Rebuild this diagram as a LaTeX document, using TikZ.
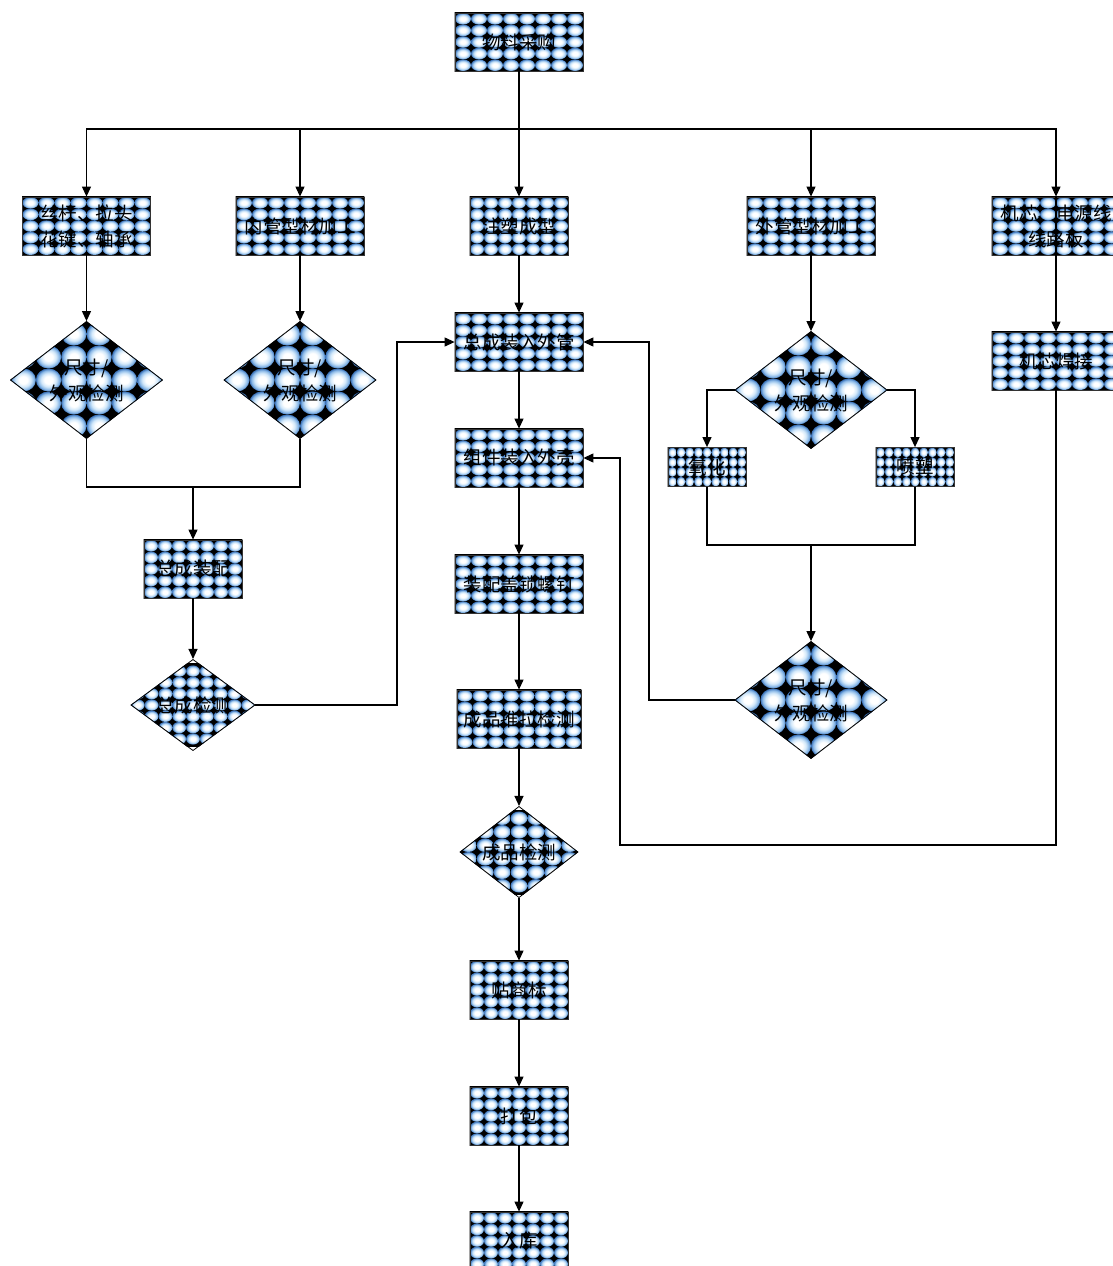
\documentclass[tikz,border=0pt]{standalone}
\usepackage{fontspec}
\setmainfont{Noto Sans CJK SC}
\usetikzlibrary{shapes.geometric,arrows.meta}
\definecolor{lb}{RGB}{210,232,250}
\definecolor{mb}{RGB}{135,182,230}
\definecolor{db}{RGB}{60,115,185}
\pgfdeclareradialshading{sph}{\pgfpoint{0bp}{0bp}}{color(0bp)=(white); color(8bp)=(white); color(15bp)=(lb); color(21bp)=(mb); color(25bp)=(db); color(50bp)=(db)}
\pgfdeclarelayer{bg}
\pgfsetlayers{bg,main}
% pattern grid: #1 cell width, #2 cell height, #3 columns, #4 rows
\newcommand\patgrid[4]{%
  \fill[black] (-#1*#3/2-2,-#2*#4/2-2) rectangle (#1*#3/2+2,#2*#4/2+2);
  \foreach \i in {1,...,#3}{\foreach \j in {1,...,#4}{
    \shade[shading=sph] ({(\i-0.5-#3/2)*#1},{(\j-0.5-#4/2)*#2}) ellipse [x radius=#1*0.5pt, y radius=#2*0.5pt];}}}
\newcommand\patbox[5]{%
  \begin{pgfonlayer}{bg}\begin{scope}
  \clip (#1.south west) rectangle (#1.north east);
  \begin{scope}[shift={(#1.center)}]\patgrid{#2}{#3}{#4}{#5}\end{scope}
  \end{scope}\end{pgfonlayer}}
\newcommand\patdia[5]{%
  \begin{pgfonlayer}{bg}\begin{scope}
  \clip (#1.north) -- (#1.east) -- (#1.south) -- (#1.west) -- cycle;
  \begin{scope}[shift={(#1.center)}]\patgrid{#2}{#3}{#4}{#5}\end{scope}
  \end{scope}\end{pgfonlayer}}
\tikzset{
 txt/.style={inner sep=0pt, align=center, font=\fontsize{18.5}{26}\selectfont},
 box/.style={txt, draw=black!80, line width=0.8pt, minimum width=128pt, minimum height=58pt},
 sbox/.style={box, minimum width=98pt},
 tbox/.style={box, minimum width=78pt, minimum height=39pt},
 dia/.style={txt, diamond, draw=black, line width=0.8pt, minimum width=152pt, minimum height=115pt},
 conn/.style={draw=black, line width=1.1pt},
 arr/.style={conn, -{Triangle[length=10pt,width=9pt]}}
}
\begin{document}
\begin{tikzpicture}[x=1pt,y=-1pt]
\useasboundingbox (0,0) rectangle (1113,1266);
\clip (0,0) rectangle (1113,1266);
% nodes
\node[box] (wl) at (519,42) {物料采购};
\node[box] (sg) at (86.5,226) {丝杆、拉头\\花键、轴承};
\node[box] (ng) at (300,226) {内管型材加工};
\node[sbox] (zs) at (519,226) {注塑成型};
\node[box] (wg) at (811,226) {外管型材加工};
\node[box] (jx) at (1056,226) {机芯、电源线\\线路板};
\node[dia] (d1) at (86.5,380) {尺寸/\\外观检测};
\node[dia] (d2) at (300,380) {尺寸/\\外观检测};
\node[dia] (d3) at (811,390) {尺寸/\\外观检测};
\node[box] (zr) at (519,342) {总成装入外管};
\node[box] (zk) at (519,458) {组件装入外壳};
\node[tbox] (yh) at (707,467) {氧化};
\node[tbox] (ps) at (915,467) {喷塑};
\node[box] (hj) at (1056,361) {机芯焊接};
\node[sbox] (zp) at (193,569) {总成装配};
\node[dia, minimum width=124pt, minimum height=79pt] (zj) at (193,705) {总成检测};
\node[box] (lg) at (519,584) {装配盖锁螺钉};
\node[dia] (d4) at (811,700) {尺寸/\\外观检测};
\node[box, minimum width=124pt] (tl) at (519,719) {成品推拉检测};
\node[dia, minimum width=118pt, minimum height=81pt] (cj) at (519,852) {成品检测};
\node[sbox] (tb) at (519,990) {贴商标};
\node[sbox] (db) at (519,1116) {打包};
\node[sbox] (rk) at (519,1241) {入库};
% fills
\foreach \n in {wl,sg,ng,wg,jx,zr,zk,hj,lg}{\patbox{\n}{16}{11.6}{8}{5}}
\foreach \n in {zs,zp,tb,db,rk}{\patbox{\n}{14}{11.6}{7}{5}}
\patbox{tl}{15.5}{11.6}{8}{5}
\foreach \n in {yh,ps}{\patbox{\n}{8.67}{9.75}{9}{4}}
\foreach \n in {d1,d2,d3,d4}{\patdia{\n}{25.3}{23}{6}{5}}
\patdia{zj}{13.8}{11.3}{9}{7}
\patdia{cj}{16.9}{13.5}{7}{6}
% junctions
\coordinate (top) at (519,129);
\coordinate (m1) at (193,487);
\coordinate (m2) at (811,545);
\coordinate (c1) at (397,705);
\coordinate (c2) at (649,700);
\coordinate (c3) at (1056,845);
\coordinate (c4) at (620,845);
% connectors
\draw[arr] (wl.south) -- (zs.north);
\draw[arr] (top) -| (sg.north);
\draw[arr] (top) -| (ng.north);
\draw[arr] (top) -| (wg.north);
\draw[arr] (top) -| (jx.north);
\draw[arr] (sg.south) -- (d1.north);
\draw[arr] (ng.south) -- (d2.north);
\draw[conn] (d1.south) |- (m1);
\draw[conn] (d2.south) |- (m1);
\draw[arr] (m1) -- (zp.north);
\draw[arr] (zp.south) -- (zj.north);
\draw[arr] (zj.east) -- (c1) |- (zr.west);
\draw[arr] (zs.south) -- (zr.north);
\draw[arr] (zr.south) -- (zk.north);
\draw[arr] (zk.south) -- (lg.north);
\draw[arr] (lg.south) -- (tl.north);
\draw[arr] (tl.south) -- (cj.north);
\draw[arr] (cj.south) -- (tb.north);
\draw[arr] (tb.south) -- (db.north);
\draw[arr] (db.south) -- (rk.north);
\draw[arr] (wg.south) -- (d3.north);
\draw[arr] (d3.west) -| (yh.north);
\draw[arr] (d3.east) -| (ps.north);
\draw[conn] (yh.south) |- (m2);
\draw[conn] (ps.south) |- (m2);
\draw[arr] (m2) -- (d4.north);
\draw[arr] (d4.west) -- (c2) |- (zr.east);
\draw[arr] (jx.north) -- (hj.north);
\draw[arr] (hj.south) -- (c3) -- (c4) |- (zk.east);
\end{tikzpicture}
\end{document}
